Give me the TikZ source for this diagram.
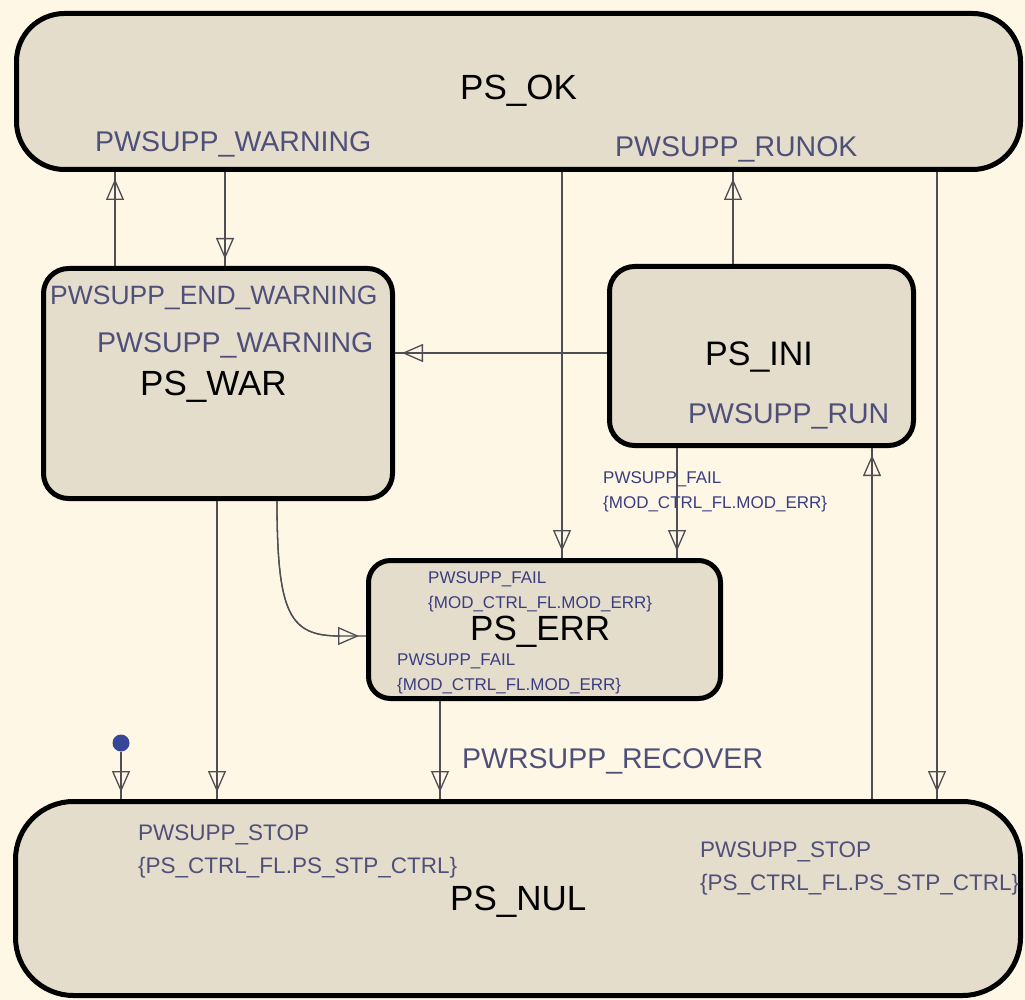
\documentclass[tikz,border=0pt]{standalone}
\usepackage{fontspec}
\setmainfont{Liberation Sans}
\usetikzlibrary{arrows.meta}
\definecolor{bg}{RGB}{254,247,230}
\definecolor{boxfill}{RGB}{229,221,204}
\definecolor{lblcol}{RGB}{78,80,122}
\definecolor{smallcol}{RGB}{58,62,128}
\definecolor{conncol}{RGB}{78,78,84}
\definecolor{dotcol}{RGB}{55,70,150}
\begin{document}
\begin{tikzpicture}[x=1pt,y=-1pt,
  state/.style={draw=black, line width=5pt, fill=boxfill, rectangle, inner sep=0pt},
  statename/.style={anchor=base west, inner sep=0pt, font=\fontsize{35}{40}\selectfont, text=black},
  biglbl/.style={anchor=base west, inner sep=0pt, font=\fontsize{28.5}{32}\selectfont, text=lblcol},
  midlbl/.style={anchor=base west, inner sep=0pt, font=\fontsize{22.5}{26}\selectfont, text=lblcol},
  smlbl/.style={anchor=base west, inner sep=0pt, font=\fontsize{17}{20}\selectfont, text=smallcol},
  conn/.style={draw=conncol, line width=1.3pt},
  arr/.style={conn, postaction={draw=conncol, line width=1.3pt, shorten >=7pt, -{Triangle[open,length=21pt,width=18pt]}}},
]
\useasboundingbox (0,0) rectangle (1025,1000);
\fill[bg] (0,0) rectangle (1025,1000);

% states
\node[state, rounded corners=48pt, minimum width=1004pt, minimum height=156pt] (ok) at (518.5,91.5) {};
\node[state, rounded corners=25pt, minimum width=349pt, minimum height=230pt] (war) at (218,383.5) {};
\node[state, rounded corners=25pt, minimum width=304pt, minimum height=179pt] (ini) at (761.5,356) {};
\node[state, rounded corners=22pt, minimum width=352pt, minimum height=138pt] (err) at (544.5,629.5) {};
\node[state, rounded corners=58pt, minimum width=1005pt, minimum height=194pt] (nul) at (518,898.5) {};
\node[circle, fill=dotcol, minimum size=17pt, inner sep=0pt] (init) at (121,743) {};
\coordinate (cv) at (340,636);

% connectors
\draw[arr] (war.north -| 115,0) -- (ok.south -| 115,0);
\draw[arr] (ok.south -| 225,0) -- (war.north -| 225,0);
\draw[arr] (ok.south -| 562,0) -- (err.north -| 562,0);
\draw[arr] (ini.north -| 733,0) -- (ok.south -| 733,0);
\draw[arr] (ok.south -| 937,0) -- (nul.north -| 937,0);
\draw[arr] (ini.west |- 0,353) -- (war.east |- 0,353);
\draw[arr] (ini.south -| 677,0) -- (err.north -| 677,0);
\draw[arr] (nul.north -| 872,0) -- (ini.south -| 872,0);
\draw[arr] (war.south -| 277,0) .. controls (277,615) and (290,636) .. (cv) -- (err.west |- cv);
\draw[arr] (war.south -| 217,0) -- (nul.north -| 217,0);
\draw[arr] (err.south -| 440,0) -- (nul.north -| 440,0);
\draw[arr] (init.south) -- (nul.north -| 121,0);

% texts
\node[statename] (tok) at (460,100) {PS\_OK};
\node[biglbl] (lok1) at (95,152) {PWSUPP\_WARNING};
\node[biglbl] (lok2) at (615,157) {PWSUPP\_RUNOK};

\node[anchor=base west, inner sep=0pt, font=\fontsize{26.5}{30}\selectfont, text=lblcol] (lwar1) at (50,305) {PWSUPP\_END\_WARNING};
\node[biglbl] (lwar2) at (97,352) {PWSUPP\_WARNING};
\node[statename] (twar) at (140,395) {PS\_WAR};

\node[statename, font=\fontsize{34}{38}\selectfont] (tini) at (705,365) {PS\_INI};
\node[biglbl] (lini) at (688,423) {PWSUPP\_RUN};
\node[smlbl] (lif1) at (603,483) {PWSUPP\_FAIL};
\node[smlbl] (lif2) at (603,508) {\{MOD\_CTRL\_FL.MOD\_ERR\}};

\node[smlbl] (lerr1) at (428,583) {PWSUPP\_FAIL};
\node[smlbl] (lerr2) at (428,608) {\{MOD\_CTRL\_FL.MOD\_ERR\}};
\node[statename] (terr) at (470,640) {PS\_ERR};
\node[smlbl] (lerr3) at (397,665) {PWSUPP\_FAIL};
\node[smlbl] (lerr4) at (397,690) {\{MOD\_CTRL\_FL.MOD\_ERR\}};

\node[biglbl] (lrec) at (462,768) {PWRSUPP\_RECOVER};

\node[midlbl] (lnul1) at (138,840) {PWSUPP\_STOP};
\node[midlbl] (lnul2) at (138,873) {\{PS\_CTRL\_FL.PS\_STP\_CTRL\}};
\node[midlbl] (lnul3) at (700,857) {PWSUPP\_STOP};
\node[midlbl] (lnul4) at (700,890) {\{PS\_CTRL\_FL.PS\_STP\_CTRL\}};
\node[statename] (tnul) at (450,910) {PS\_NUL};
\end{tikzpicture}
\end{document}
